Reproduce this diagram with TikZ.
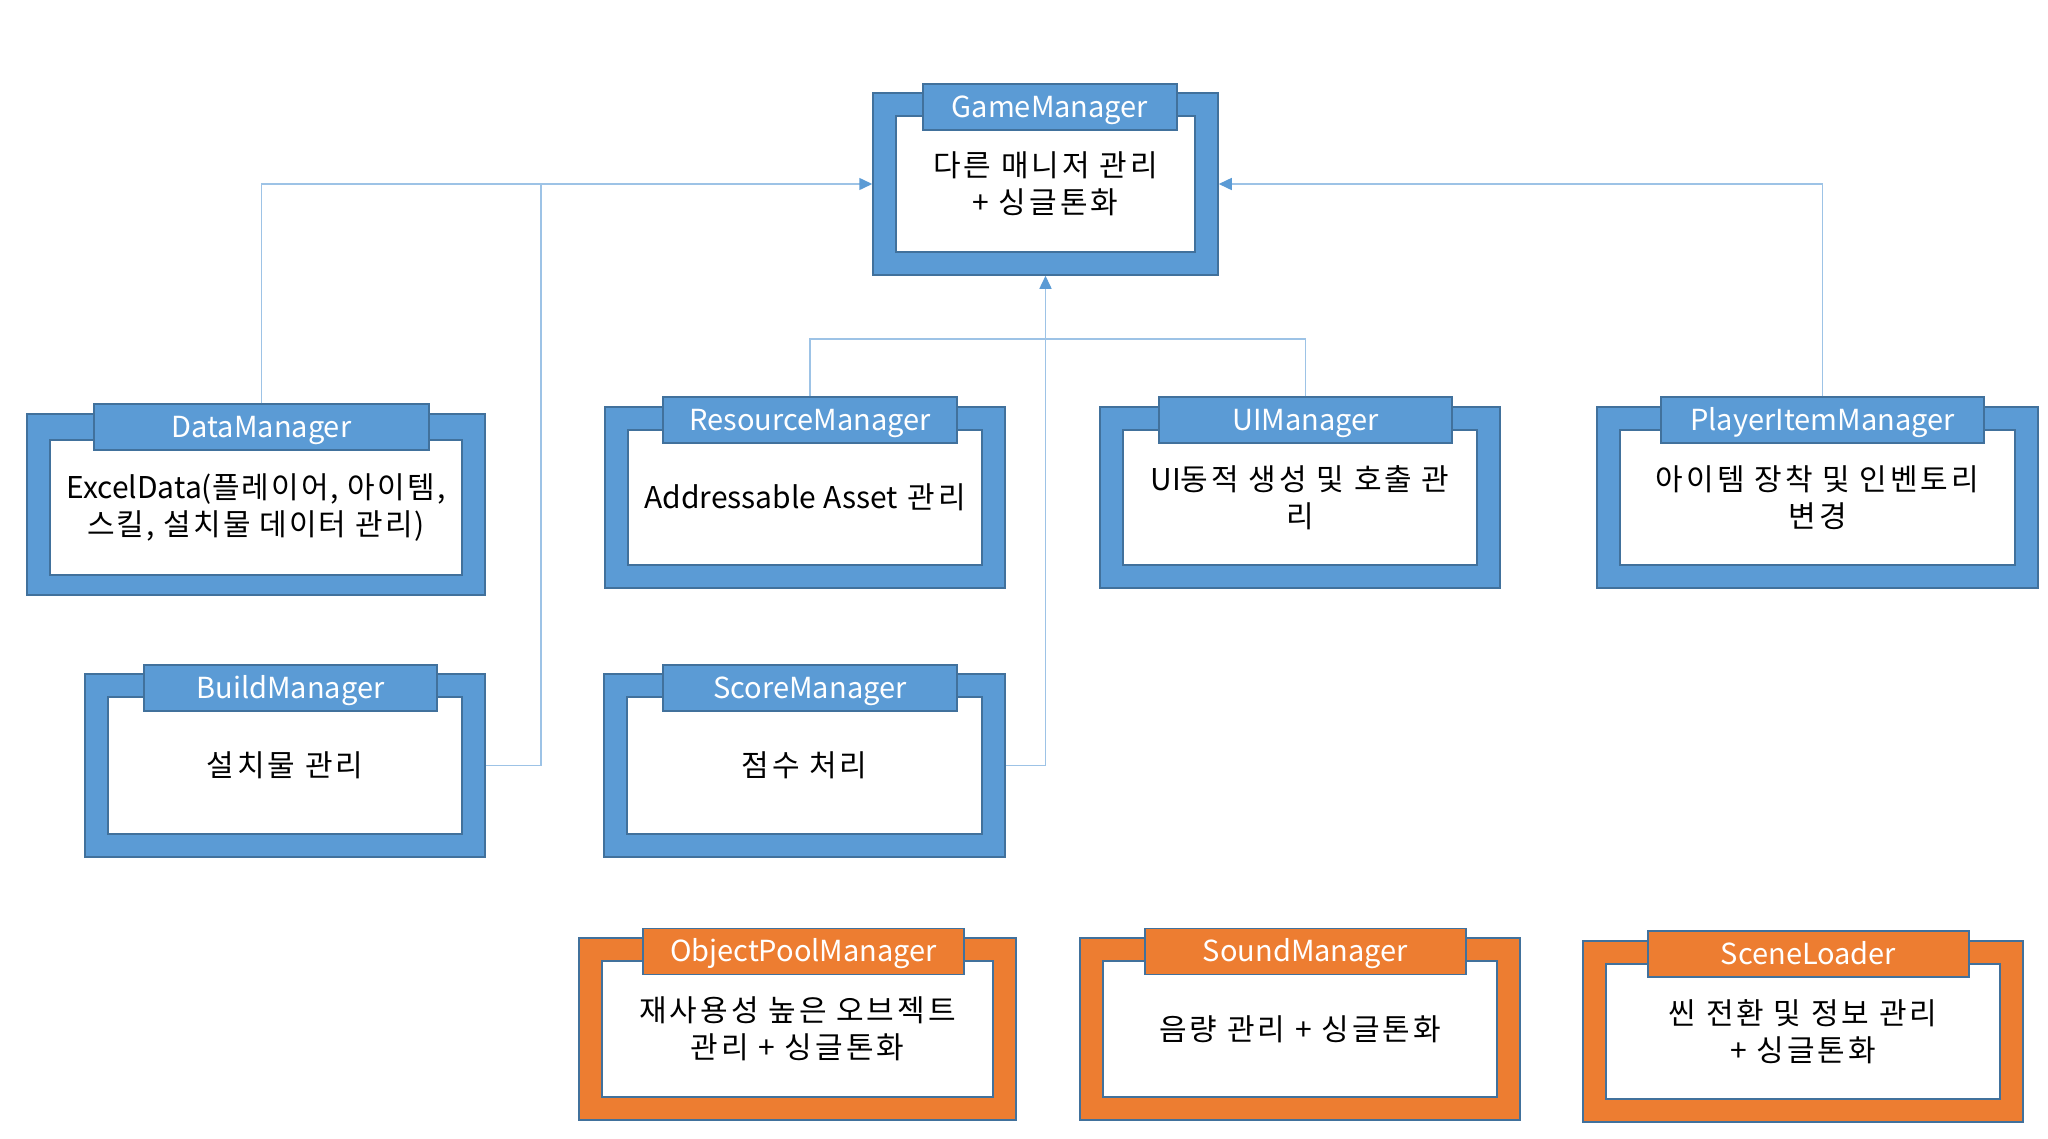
\documentclass[tikz,border=0pt]{standalone}
\usepackage{fontspec}
\setmainfont{Noto Sans CJK KR}
\newfontfamily\krfont{Noto Sans CJK KR}[LetterSpace=10]
\newfontfamily\krtight{Noto Sans CJK KR}[LetterSpace=7]
\newfontfamily\latfont{Noto Sans CJK KR}
\usetikzlibrary{arrows.meta}

\definecolor{mgrblue}{HTML}{5B9BD5}
\definecolor{mgrorange}{HTML}{ED7D31}
\definecolor{mgredge}{HTML}{41719C}
\definecolor{linkblue}{HTML}{9DC3E6}

\tikzset{
  frameB/.style={draw=mgredge, fill=mgrblue, line width=1.5pt, inner sep=0pt},
  frameO/.style={draw=mgredge, fill=mgrorange, line width=1.5pt, inner sep=0pt},
  inbox/.style={draw=mgredge, fill=white, line width=1.2pt, inner sep=0pt, align=center,
    font=\krfont\fontsize{30}{37}\selectfont},
  tabB/.style={frameB, minimum height=46pt, text=white, text height=20pt, text depth=0pt,
    font=\fontsize{29}{34}\selectfont},
  tabO/.style={tabB, fill=mgrorange},
  link/.style={draw=linkblue, line width=1.5pt},
  arr/.style={link, -{Triangle[length=13pt,width=12pt,color=mgrblue]}}
}

\begin{document}
\begin{tikzpicture}[x=1pt,y=-1pt]
            \useasboundingbox (0,0) rectangle (2048,1138);

            % top manager
            \node[frameB, minimum width=345pt, minimum height=182pt] (game) at (1045.5,184) {};
            \node[inbox, minimum width=299pt, minimum height=136pt] (game-in) at (game.center) {다른 매니저 관리\\+ 싱글톤화};
            \node[tabB, minimum width=254pt] (game-t) at (1050,107) {GameManager};

            % blue managers
            \node[frameB, minimum width=458pt, minimum height=181pt] (data) at (256,504.5) {};
            \node[inbox, font=\krtight\fontsize{30}{37}\selectfont, minimum width=412pt, minimum height=135pt] (data-in) at ([yshift=-3pt]data.center) {{\latfont ExcelData(}플레이어, 아이템,\\스킬, 설치물 데이터 관리)};
            \node[tabB, minimum width=335pt] (data-t) at (261.5,427) {DataManager};

            \node[frameB, minimum width=400pt, minimum height=181pt] (res) at (805,497.5) {};
            \node[inbox, minimum width=354pt, minimum height=135pt] (res-in) at (res.center) {{\latfont Addressable Asset} 관리};
            \node[tabB, minimum width=294pt] (res-t) at (810,420) {ResourceManager};

            \node[frameB, minimum width=400pt, minimum height=181pt] (ui) at (1300,497.5) {};
            \node[inbox, minimum width=354pt, minimum height=135pt] (ui-in) at (ui.center) {{\latfont UI}동적 생성 및 호출 관\\리};
            \node[tabB, minimum width=293pt] (ui-t) at (1305.5,420) {UIManager};

            \node[frameB, minimum width=441pt, minimum height=181pt] (player) at (1817.5,497.5) {};
            \node[inbox, minimum width=395pt, minimum height=135pt] (player-in) at (player.center) {아이템 장착 및 인벤토리\\변경};
            \node[tabB, minimum width=323pt] (player-t) at (1822.5,420) {PlayerItemManager};

            \node[frameB, minimum width=400pt, minimum height=183pt] (build) at (285,765.5) {};
            \node[inbox, minimum width=354pt, minimum height=137pt] (build-in) at (build.center) {설치물 관리};
            \node[tabB, minimum width=293pt] (build-t) at (290.5,688) {BuildManager};

            \node[frameB, minimum width=401pt, minimum height=183pt] (score) at (804.5,765.5) {};
            \node[inbox, minimum width=355pt, minimum height=137pt] (score-in) at (score.center) {점수 처리};
            \node[tabB, minimum width=294pt] (score-t) at (810,688) {ScoreManager};

            % orange managers
            \node[frameO, minimum width=437pt, minimum height=182pt] (pool) at (797.5,1029) {};
            \node[inbox, minimum width=391pt, minimum height=136pt] (pool-in) at (pool.center) {재사용성 높은 오브젝트\\관리 + 싱글톤화};
            \node[tabO, minimum width=321pt] (pool-t) at (803.5,951.5) {ObjectPoolManager};

            \node[frameO, minimum width=440pt, minimum height=182pt] (sound) at (1300,1029) {};
            \node[inbox, minimum width=394pt, minimum height=136pt] (sound-in) at (sound.center) {음량 관리 + 싱글톤화};
            \node[tabO, minimum width=321pt] (sound-t) at (1305.5,951.5) {SoundManager};

            \node[frameO, minimum width=440pt, minimum height=181pt] (scene) at (1803,1031.5) {};
            \node[inbox, minimum width=394pt, minimum height=135pt] (scene-in) at (scene.center) {씬 전환 및 정보 관리\\+ 싱글톤화};
            \node[tabO, minimum width=321pt] (scene-t) at (1808.5,954) {SceneLoader};

            % Draw links
            \coordinate (bj) at (541,184);
            \coordinate (mj) at (1045.5,339);
            \draw[arr] (data-t.north) |- (game.west);
            \draw[link] (build.east) -| (bj);
            \draw[arr] (player-t.north) |- (game.east);
            \draw[arr] (res-t.north) |- (mj) -- (game.south);
            \draw[link] (ui-t.north) |- (mj);
            \draw[link] (score.east) -| (mj);

        \end{tikzpicture}
\end{document}
